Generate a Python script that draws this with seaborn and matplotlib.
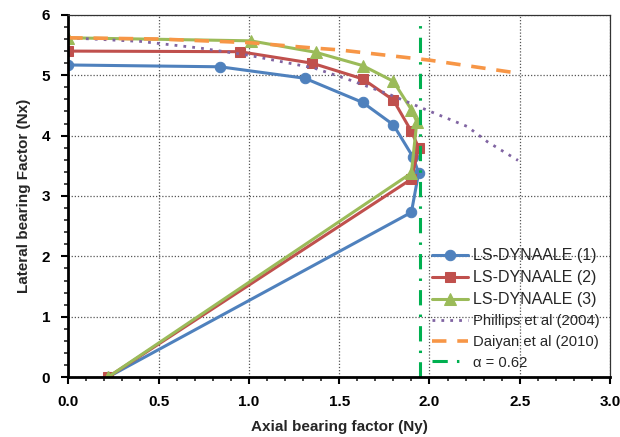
import numpy as np
import pandas as pd
import matplotlib
matplotlib.use("Agg")
import matplotlib.pyplot as plt
import seaborn as sns
from matplotlib.ticker import MultipleLocator, FormatStrFormatter

# LS-DYNA ALE failure envelopes (axial Ny, lateral Nx)
ny_ale1 = [0.00, 0.84, 1.31, 1.63, 1.80, 1.91, 1.94, 1.90, 0.22]
nx_ale1 = [5.17, 5.14, 4.95, 4.55, 4.18, 3.64, 3.38, 2.73, 0.00]

ny_ale2 = [0.00, 0.95, 1.35, 1.63, 1.80, 1.90, 1.94, 1.90, 0.22]
nx_ale2 = [5.40, 5.39, 5.20, 4.94, 4.59, 4.07, 3.80, 3.28, 0.00]

ny_ale3 = [0.00, 1.01, 1.37, 1.63, 1.80, 1.90, 1.93, 1.90, 0.22]
nx_ale3 = [5.62, 5.57, 5.38, 5.16, 4.90, 4.43, 4.23, 3.38, 0.00]

# Published interaction curves
ny_phillips = [0.00, 0.40, 0.73, 1.00, 1.36, 1.56, 1.78, 1.98, 2.21, 2.32, 2.49]
nx_phillips = [5.62, 5.56, 5.45, 5.33, 5.12, 4.92, 4.68, 4.43, 4.15, 3.90, 3.59]

ny_daiyan = [0.00, 0.50, 1.00, 1.36, 1.50, 2.00, 2.50]
nx_daiyan = [5.62, 5.60, 5.54, 5.45, 5.42, 5.25, 5.03]

# Limit line for alpha = 0.62
ny_alpha = [1.947, 1.947]
nx_alpha = [0.00, 5.85]

labels = ["LS-DYNAALE (1)", "LS-DYNAALE (2)", "LS-DYNAALE (3)",
          "Phillips et al (2004)", "Daiyan et al (2010)", "\u03b1 = 0.62"]

sns.set_theme(style="white")
plt.rcParams["font.family"] = ["Liberation Sans", "DejaVu Sans"]

fig = plt.figure(figsize=(6.2, 4.37), dpi=100)
ax = fig.add_axes([0.110, 0.137, 0.874, 0.829])

blue, red, green = "#4F81BD", "#C0504D", "#9BBB59"
purple, orange, alpha_green = "#8064A2", "#F79646", "#00B050"

common = dict(sort=False, estimator=None, ax=ax)
sns.lineplot(x=ny_ale1, y=nx_ale1, color=blue, lw=2.2, marker="o", ms=7.5,
             mec=blue, label=labels[0], **common)
sns.lineplot(x=ny_ale2, y=nx_ale2, color=red, lw=2.2, marker="s", ms=7.5,
             mec=red, label=labels[1], **common)
sns.lineplot(x=ny_ale3, y=nx_ale3, color=green, lw=2.2, marker="^", ms=8,
             mec=green, label=labels[2], **common)
sns.lineplot(x=ny_phillips, y=nx_phillips, color=purple, lw=2.0,
             linestyle=(0, (1, 2.2)), label=labels[3], **common)
sns.lineplot(x=ny_daiyan, y=nx_daiyan, color=orange, lw=2.6,
             linestyle=(0, (4, 3)), label=labels[4], **common)
sns.lineplot(x=ny_alpha, y=nx_alpha, color=alpha_green, lw=2.2,
             linestyle=(0, (5, 3, 0.8, 3)), label=labels[5], **common)

ax.set_xlim(0, 3)
ax.set_ylim(0, 6)
ax.xaxis.set_major_locator(MultipleLocator(0.5))
ax.xaxis.set_minor_locator(MultipleLocator(0.1))
ax.yaxis.set_major_locator(MultipleLocator(1))
ax.yaxis.set_minor_locator(MultipleLocator(0.2))
ax.xaxis.set_major_formatter(FormatStrFormatter("%.1f"))
ax.yaxis.set_major_formatter(FormatStrFormatter("%d"))

ax.grid(True, which="major", color="#555555", linestyle=(0, (1, 1.5)), lw=0.9)
ax.set_axisbelow(True)

for side in ("left", "bottom"):
    ax.spines[side].set_linewidth(2.0)
    ax.spines[side].set_color("black")
for side in ("top", "right"):
    ax.spines[side].set_linewidth(0.9)
    ax.spines[side].set_color("#333333")

ax.tick_params(which="major", direction="out", length=5, width=1.5,
               bottom=True, left=True, labelsize=11, pad=8, colors="black")
ax.tick_params(which="minor", direction="out", length=3, width=1.2,
               bottom=True, left=True)
for t in ax.get_xticklabels() + ax.get_yticklabels():
    t.set_fontweight("bold")

ax.set_xlabel("Axial bearing factor (Ny)", fontsize=11, fontweight="bold", labelpad=8)
ax.set_ylabel("Lateral bearing Factor (Nx)", fontsize=11, fontweight="bold", labelpad=8)

leg = ax.legend(loc="lower left", bbox_to_anchor=(0.655, -0.005), frameon=False,
                handlelength=2.35, handletextpad=0.3, labelspacing=0.45,
                borderaxespad=0.2, fontsize=11)
for i, txt in enumerate(leg.get_texts()):
    txt.set_fontsize(11.5 if i < 3 else 10.6)

fig.savefig("out.png", dpi=100)
